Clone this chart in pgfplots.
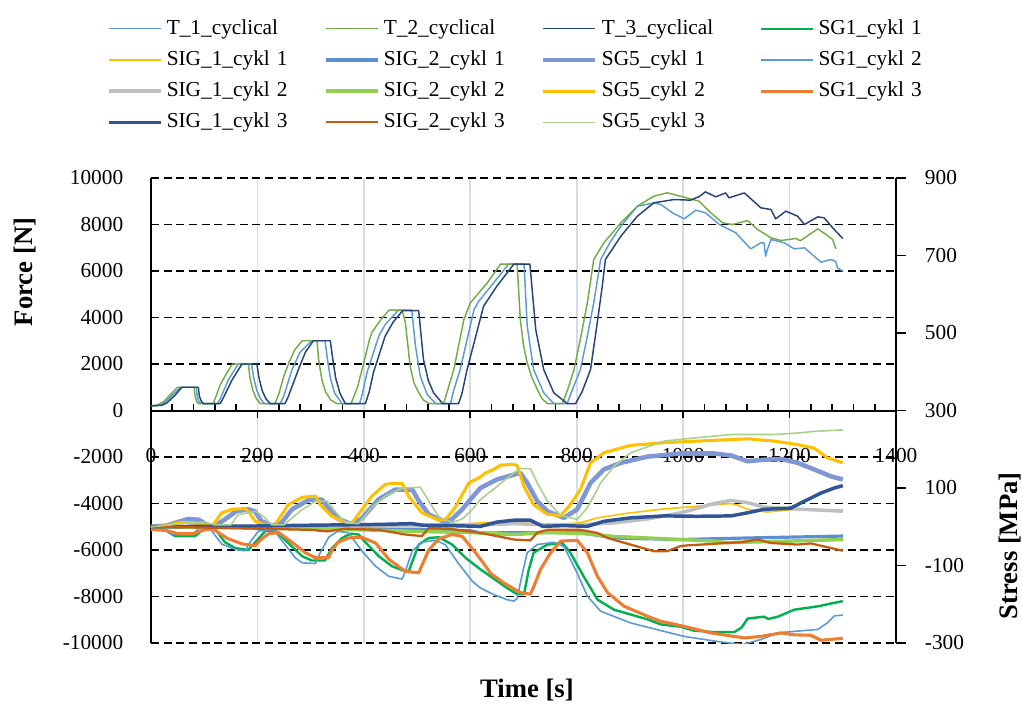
\documentclass[border=0pt]{standalone}
\usepackage{fontspec}
\setmainfont{Liberation Serif}
\usepackage{pgfplots}
\pgfplotsset{compat=1.18}
\definecolor{cT1}{HTML}{5B9BD5}
\definecolor{cT2}{HTML}{70AD47}
\definecolor{cT3}{HTML}{264478}
\definecolor{cSGa}{HTML}{00B050}
\definecolor{cGold}{HTML}{FFC000}
\definecolor{cSIGb}{HTML}{5A8FD2}
\definecolor{cPeri}{HTML}{7F97D5}
\definecolor{cGray}{HTML}{BFBFBF}
\definecolor{cLG}{HTML}{92D050}
\definecolor{cOr}{HTML}{ED7D31}
\definecolor{cDB}{HTML}{2F5597}
\definecolor{cBr}{HTML}{C55A11}
\definecolor{cPG}{HTML}{A9D18E}
\definecolor{gridc}{HTML}{D6DCE5}
\begin{document}
\begin{tikzpicture}
\begin{axis}[
  scale only axis, width=558.75pt, height=348.75pt,
  xmin=0, xmax=1400, ymin=-10000, ymax=10000,
  axis x line*=middle, axis y line*=left,
  axis line style={black, line width=1.5pt, -},
  hide obscured x ticks=false, hide obscured y ticks=false,
  scaled y ticks=false, scaled x ticks=false,
  xtick={0,200,...,1400}, minor x tick num=4,
  ytick={-10000,-8000,...,10000},
  xmajorgrids, ymajorgrids,
  x grid style={gridc, line width=1.2pt},
  y grid style={black, line width=1pt, dash pattern=on 6pt off 3.5pt},
  tick align=center,
  major tick length=5.25pt, minor tick length=5.25pt,
  xtick style={black, line width=1.2pt},
  ytick style={draw=none},
  every major x tick/.append style={yshift=-2.625pt},
  every minor x tick/.append style={yshift=2.625pt},
  tick label style={font=\fontsize{16}{19}\selectfont},
  /pgf/number format/assume math mode=true,
  /pgf/number format/set thousands separator={},
  xticklabel style={anchor=center, inner sep=0pt, yshift=-31.5pt},
  yticklabel style={anchor=east, inner sep=0pt, xshift=-18pt},
  ylabel={Force [N]},
  ylabel style={at={(axis description cs:0,0.798)}, anchor=center, yshift=94.5pt, font=\fontsize{20}{24}\selectfont\bfseries},
  xlabel={Time [s]},
  xlabel style={at={(axis description cs:0.5,0)}, anchor=center, yshift=-35.25pt, xshift=2.6pt, font=\fontsize{20}{24}\selectfont\bfseries},
  every axis plot/.append style={no markers, line join=round},
]
% T_1_cyclical
\addplot[cT1, line width=1.1pt] coordinates {
(0,200)(12,220)(25,330)(40,650)(55,1000)(85,1000)(87,600)(90,380)(94,300)
(125,300)(130,500)(145,1300)(164,2000)(189,2000)(193,1400)(199,850)(206,500)(213,300)
(243,300)(250,650)(265,1763)(280,2500)(302,3000)(327,3000)(331,2300)(337,1400)(345,750)(359,300)
(392,300)(397,700)(406,1634)(428,3197)(440,3699)(465,4315)(490,4315)(497,2767)(506,1476)(519,688)(535,300)
(563,300)(568,800)(581,1763)(607,4344)(616,4702)(644,5490)(672,6300)(701,6300)(707,3627)(719,1763)(738,760)(757,300)
(782,300)(792,900)(807,1763)(820,3200)(832,4630)(845,6495)(864,7284)(883,7928)(914,8788)(945,8930)(958,8860)(980,8500)(1002,8244)(1024,8617)(1042,8502)(1068,8000)(1099,7642)(1127,6953)(1146,7211)(1152,7211)(1155,6638)(1158,6900)(1165,7355)(1190,7211)(1209,6953)(1228,6997)(1259,6380)(1278,6495)(1287,6400)(1290,6136)(1300,5993)
};
% T_2_cyclical
\addplot[cT2, line width=1.1pt] coordinates {
(0,200)(10,220)(22,350)(35,650)(50,1000)(81,1000)(83,600)(86,380)(89,300)
(117,300)(122,600)(130,1100)(139,1476)(153,2000)(183,2000)(186,1400)(191,900)(197,550)(205,300)
(233,300)(240,700)(250,1500)(260,2100)(270,2600)(284,3000)(312,3000)(315,2194)(321,1333)(328,800)(338,450)(349,300)
(376,300)(388,1000)(400,2065)(410,3000)(415,3355)(430,3850)(447,4315)(472,4315)(478,3785)(487,1906)(494,1200)(503,770)(512,450)(522,300)
(550,300)(569,1763)(588,3914)(600,4630)(632,5490)(657,6300)(688,6300)(694,3914)(700,2800)(707,2050)(716,1400)(726,903)(735,500)(745,300)
(773,300)(783,900)(795,1763)(808,3200)(820,4630)(832,6495)(851,7213)(883,8073)(914,8788)(945,9217)(970,9362)(995,9217)(1030,9003)(1052,8502)(1074,8072)(1093,8000)(1121,8172)(1140,7785)(1165,7427)(1184,7312)(1212,7398)(1220,7300)(1253,7814)(1271,7527)(1281,7355)(1287,6953)
};
% T_3_cyclical
\addplot[cT3, line width=1.1pt] coordinates {
(0,200)(20,220)(30,330)(45,650)(58,1000)(89,1000)(91,600)(95,380)(99,300)
(130,300)(135,500)(152,1300)(171,2000)(199,2000)(203,1400)(209,850)(216,500)(224,300)
(252,300)(258,600)(277,1763)(290,2500)(305,3000)(337,3000)(341,2300)(347,1400)(355,750)(365,300)
(403,300)(410,800)(418,1634)(440,3197)(455,3800)(473,4300)(503,4300)(512,2194)(521,1300)(531,760)(548,300)
(578,300)(584,700)(594,1763)(625,4487)(650,5347)(682,6300)(712,6300)(723,3484)(738,1763)(757,760)(782,300)
(798,300)(810,800)(826,1763)(840,4000)(848,5347)(854,6495)(883,7498)(914,8358)(945,8932)(983,9075)(1014,9046)(1030,9200)(1042,9405)(1061,9190)(1080,9358)(1086,9147)(1115,9358)(1146,8717)(1165,8645)(1174,8244)(1193,8574)(1215,8358)(1228,8000)(1253,8330)(1265,8287)(1281,7857)(1300,7398)
};
\end{axis}
\begin{axis}[
  scale only axis, width=558.75pt, height=348.75pt,
  xmin=0, xmax=1400, ymin=-300, ymax=900,
  axis x line=none, axis y line*=right, xtick=\empty,
  axis line style={black, line width=1.5pt, -},
  ytick={-300,-100,...,900},
  ytick style={black, line width=1.2pt},
  tick align=outside, major tick length=7.5pt,
  tick label style={font=\fontsize{16}{19}\selectfont},
  /pgf/number format/assume math mode=true,
  yticklabel style={anchor=west, inner sep=0pt, xshift=14pt},
  ylabel={Stress [MPa]},
  ylabel style={at={(axis description cs:1,0.209)}, anchor=center, yshift=-85.5pt, font=\fontsize{20}{24}\selectfont\bfseries},
  every axis plot/.append style={no markers, line join=round},
  legend columns=4,
  legend cell align=left,
  legend image code/.code={\draw[#1] (0pt,0pt) -- (39pt,0pt);},
  legend style={at={(axis description cs:-0.059,1.344)}, anchor=north west, draw=none, fill=none, inner sep=0pt, outer sep=0pt,
    font=\fontsize{16}{19}\selectfont, row sep=7.4pt,
    nodes={inner xsep=3.2pt, inner ysep=0pt, text height=12pt, text depth=4pt, text width=100pt},
    /tikz/every even column/.append style={column sep=14.8pt}},
]
\addlegendimage{cT1, line width=1.1pt}\addlegendentry{T\_1\_cyclical}
\addlegendimage{cT2, line width=1.1pt}\addlegendentry{T\_2\_cyclical}
\addlegendimage{cT3, line width=1.1pt}\addlegendentry{T\_3\_cyclical}
% SG1_cykl 1
\addplot[cSGa, line width=1.8pt] coordinates {
(0,0)(20,-3)(45,-24)(83,-24)(102,-3)(120,-5)(139,-40)(158,-55)(183,-60)(196,-40)(215,-11)(233,-10)(258,-42)(284,-76)(302,-87)(327,-87)(340,-55)(359,-29)(375,-18)(390,-20)(403,-40)(428,-76)(453,-102)(478,-115)(485,-113)(491,-90)(503,-46)(522,-29)(541,-27)(566,-46)(591,-80)(619,-110)(638,-128)(669,-158)(688,-174)(701,-174)(710,-110)(719,-67)(745,-46)(773,-42)(788,-67)(813,-128)(839,-188)(870,-214)(933,-239)(958,-252)(995,-258)(1020,-268)(1058,-272)(1096,-272)(1110,-260)(1121,-237)(1152,-232)(1160,-238)(1178,-232)(1209,-214)(1240,-208)(1255,-205)(1278,-198)(1300,-192)
};\addlegendentry{SG1\_cykl 1}
% SIG_1_cykl 1
\addplot[cGold, line width=1.2pt] coordinates {
(0,0)(100,2)(200,3)(300,5)(400,5)(500,6)(600,8)(619,10)(682,12)(745,5)(807,10)(839,23)(901,36)(964,46)(1027,53)(1064,57)(1090,60)(1102,56)(1121,45)(1158,38)(1209,45)(1300,43)
};\addlegendentry{SIG\_1\_cykl 1}
% SIG_2_cykl 1
\addplot[cSIGb, line width=2.4pt] coordinates {
(0,0)(200,-2)(400,-5)(600,-10)(619,-16)(745,-15)(807,-15)(870,-29)(995,-33)(1121,-29)(1300,-24)
};\addlegendentry{SIG\_2\_cykl 1}
% SG5_cykl 1
\addplot[cPeri, line width=3.4pt] coordinates {
(0,0)(30,3)(50,12)(70,20)(90,18)(105,5)(120,2)(140,20)(160,40)(183,45)(195,40)(208,14)(227,3)(245,10)(265,45)(296,69)(321,70)(334,47)(352,20)(375,8)(395,20)(428,71)(459,96)(491,96)(503,67)(522,32)(553,11)(566,20)(585,45)(600,70)(619,100)(650,122)(694,139)(707,113)(726,66)(745,40)(776,23)(801,45)(826,113)(851,148)(883,165)(933,181)(995,189)(1058,189)(1090,184)(1121,169)(1152,173)(1184,175)(1215,165)(1246,148)(1278,130)(1300,122)
};\addlegendentry{SG5\_cykl 1}
% SG1_cykl 2
\addplot[cT1, line width=1.2pt] coordinates {
(0,0)(20,-3)(39,-20)(77,-20)(90,-5)(110,-3)(133,-45)(152,-55)(164,-60)(177,-62)(186,-40)(202,-11)(230,-8)(252,-46)(271,-80)(284,-93)(309,-95)(318,-67)(334,-27)(350,-12)(371,-15)(396,-62)(422,-102)(447,-128)(472,-135)(478,-115)(491,-62)(509,-40)(534,-35)(553,-46)(578,-95)(604,-141)(619,-158)(644,-175)(669,-188)(682,-192)(688,-185)(698,-120)(707,-67)(726,-46)(757,-40)(776,-51)(801,-120)(820,-179)(845,-218)(901,-248)(964,-270)(1002,-283)(1064,-296)(1112,-304)(1146,-291)(1178,-274)(1209,-270)(1253,-265)(1271,-248)(1284,-230)(1300,-228)
};\addlegendentry{SG1\_cykl 2}
% SIG_1_cykl 2
\addplot[cGray, line width=2.6pt] coordinates {
(0,0)(200,0)(400,2)(600,3)(682,8)(745,5)(807,5)(870,10)(933,20)(995,36)(1020,45)(1058,60)(1090,68)(1121,62)(1152,51)(1209,46)(1300,40)
};\addlegendentry{SIG\_1\_cykl 2}
% SIG_2_cykl 2
\addplot[cLG, line width=2.6pt] coordinates {
(0,0)(200,-3)(400,-8)(500,-12)(600,-15)(682,-20)(745,-15)(807,-17)(870,-25)(933,-29)(1058,-37)(1083,-41)(1200,-37)(1300,-33)
};\addlegendentry{SIG\_2\_cykl 2}
% SG5_cykl 2
\addplot[cGold, line width=2.3pt] coordinates {
(0,0)(30,3)(50,10)(70,11)(90,8)(114,0)(133,36)(152,45)(177,47)(185,36)(196,14)(215,5)(233,5)(258,57)(284,76)(309,79)(318,57)(340,27)(365,11)(378,10)(415,79)(440,109)(453,112)(472,112)(484,79)(509,36)(541,17)(553,18)(572,51)(597,113)(616,126)(629,139)(644,148)(657,159)(682,161)(688,158)(701,104)(719,57)(745,32)(770,29)(788,57)(807,96)(826,165)(851,191)(901,210)(964,217)(1027,221)(1090,225)(1121,227)(1171,221)(1215,212)(1246,203)(1271,178)(1300,165)
};\addlegendentry{SG5\_cykl 2}
% SG1_cykl 3
\addplot[cOr, line width=2.3pt] coordinates {
(0,-7)(30,-10)(51,-18)(80,-18)(95,-10)(115,-5)(145,-31)(171,-44)(196,-49)(205,-35)(221,-18)(240,-15)(265,-40)(290,-67)(309,-80)(334,-80)(340,-60)(352,-40)(371,-29)(396,-27)(422,-42)(447,-84)(478,-115)(503,-119)(509,-100)(522,-60)(541,-31)(566,-20)(585,-25)(610,-67)(629,-102)(638,-120)(663,-145)(694,-170)(713,-174)(719,-155)(732,-110)(751,-67)(770,-37)(801,-35)(820,-67)(839,-128)(858,-170)(889,-205)(933,-231)(958,-244)(1002,-257)(1052,-274)(1115,-287)(1146,-283)(1184,-274)(1209,-279)(1240,-280)(1259,-293)(1300,-288)
};\addlegendentry{SG1\_cykl 3}
% SIG_1_cykl 3
\addplot[cDB, line width=2.6pt] coordinates {
(0,0)(100,1)(200,2)(302,4)(365,5)(428,6)(491,8)(510,4)(560,3)(619,1)(650,12)(682,17)(713,17)(736,1)(776,3)(820,1)(851,14)(901,23)(964,28)(1027,27)(1090,28)(1121,36)(1152,45)(1202,48)(1228,66)(1259,87)(1284,100)(1300,106)
};\addlegendentry{SIG\_1\_cykl 3}
% SIG_2_cykl 3
\addplot[cBr, line width=1.7pt] coordinates {
(0,0)(100,-2)(200,-5)(300,-8)(331,-12)(365,-5)(428,-8)(478,-20)(509,-24)(522,-3)(560,-5)(619,-16)(650,-24)(682,-33)(713,-35)(726,-15)(745,-8)(807,-8)(839,-16)(858,-29)(901,-46)(945,-63)(970,-63)(995,-50)(1008,-48)(1058,-44)(1083,-42)(1108,-40)(1140,-33)(1165,-42)(1190,-44)(1215,-46)(1240,-43)(1278,-55)(1300,-62)
};\addlegendentry{SIG\_2\_cykl 3}
% SG5_cykl 3
\addplot[cPG, line width=1.2pt] coordinates {
(0,0)(40,5)(70,10)(100,12)(120,5)(150,5)(164,31)(196,40)(208,30)(227,5)(250,5)(280,40)(309,66)(331,66)(346,40)(365,10)(390,8)(415,50)(440,79)(472,100)(506,102)(522,67)(541,25)(566,11)(585,20)(604,45)(619,70)(650,104)(682,139)(694,150)(713,150)(726,113)(745,66)(770,29)(801,19)(820,49)(845,113)(870,156)(901,191)(964,221)(1027,230)(1090,238)(1171,238)(1215,242)(1246,246)(1300,250)
};\addlegendentry{SG5\_cykl 3}
\end{axis}
\pgfresetboundingbox
\path[use as bounding box] (-113.25pt,-45.75pt) rectangle (653.25pt,482.25pt);
\end{tikzpicture}
\end{document}
